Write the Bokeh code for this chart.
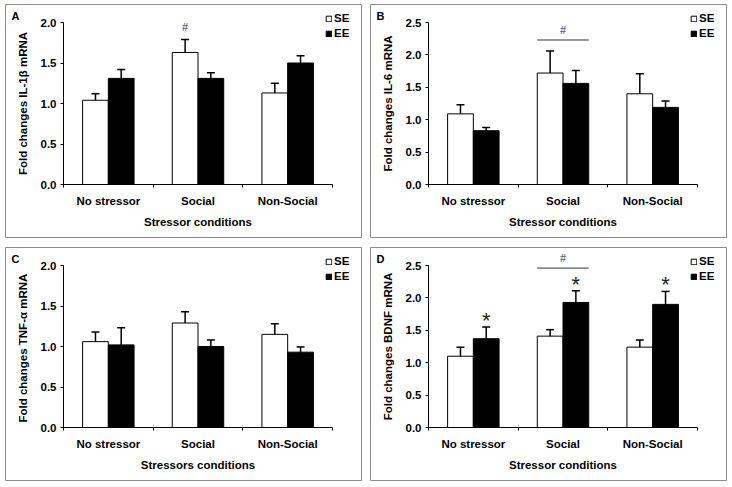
from bokeh.plotting import figure
from bokeh.models import (ColumnDataSource, FixedTicker, PrintfTickFormatter, Whisker,
                          Legend, LegendItem, Label, Range1d, TeeHead)
from bokeh.layouts import gridplot
from bokeh.embed import file_html
from bokeh.resources import INLINE

categories = ["No stressor", "Social", "Non-Social"]
groups = ["SE", "EE"]

# Panel A: IL-1beta
il1b_se = [1.04, 1.63, 1.13]
il1b_se_err = [0.08, 0.16, 0.12]
il1b_ee = [1.31, 1.31, 1.50]
il1b_ee_err = [0.11, 0.07, 0.09]

# Panel B: IL-6
il6_se = [1.09, 1.72, 1.40]
il6_se_err = [0.14, 0.34, 0.31]
il6_ee = [0.83, 1.56, 1.19]
il6_ee_err = [0.05, 0.20, 0.10]

# Panel C: TNF-alpha
tnfa_se = [1.06, 1.29, 1.15]
tnfa_se_err = [0.12, 0.14, 0.13]
tnfa_ee = [1.02, 1.00, 0.93]
tnfa_ee_err = [0.21, 0.08, 0.065]

# Panel D: BDNF
bdnf_se = [1.10, 1.41, 1.24]
bdnf_se_err = [0.14, 0.10, 0.11]
bdnf_ee = [1.37, 1.93, 1.90]
bdnf_ee_err = [0.18, 0.18, 0.20]

ticks_20 = [0.0, 0.5, 1.0, 1.5, 2.0]
ticks_25 = [0.0, 0.5, 1.0, 1.5, 2.0, 2.5]

FONT = "Liberation Sans"
W, H = 357, 234
PX_L, PX_R, PX_B, PX_T = 58, 30, 54, 18
BW = 0.287


def panel(letter, se, se_err, ee, ee_err, yticks, ytitle, xtitle,
          hash_over_se=False, hash_line_y=None, stars=False):
    n = len(categories)
    ymax = yticks[-1]
    ppx = (W - PX_L - PX_R) / n
    ppy = (H - PX_B - PX_T) / ymax
    p = figure(width=W, height=H, title=None,
               x_range=Range1d(-PX_L / ppx, n + PX_R / ppx),
               y_range=Range1d(-PX_B / ppy, ymax + PX_T / ppy),
               output_backend="svg", toolbar_location=None,
               min_border=0, min_border_left=0, min_border_right=0,
               min_border_top=0, min_border_bottom=0)
    p.outline_line_color = "#8c8c8c"
    p.outline_line_width = 1
    p.grid.visible = False

    xc = [i + 0.5 for i in range(n)]
    x_se = [c - BW / 2 for c in xc]
    x_ee = [c + BW / 2 for c in xc]

    src_se = ColumnDataSource(dict(x=x_se, top=se,
                                   upper=[v + e for v, e in zip(se, se_err)],
                                   lower=[v - e for v, e in zip(se, se_err)]))
    src_ee = ColumnDataSource(dict(x=x_ee, top=ee,
                                   upper=[v + e for v, e in zip(ee, ee_err)],
                                   lower=[v - e for v, e in zip(ee, ee_err)]))
    r_se = p.vbar(x="x", top="top", width=BW, source=src_se,
                  fill_color="white", line_color="black", line_width=1)
    r_ee = p.vbar(x="x", top="top", width=BW, source=src_ee,
                  fill_color="black", line_color="black", line_width=1)
    for src in (src_se, src_ee):
        p.add_layout(Whisker(source=src, base="x", upper="upper", lower="lower",
                             line_color="black", line_width=1.5,
                             upper_head=TeeHead(size=8, line_width=1.5, line_color="black"),
                             lower_head=TeeHead(size=8, line_width=1.5, line_color="black")))

    # axes
    yax = p.yaxis[0]
    yax.fixed_location = 0
    yax.bounds = (0, ymax)
    yax.ticker = FixedTicker(ticks=yticks, minor_ticks=[])
    yax.formatter = PrintfTickFormatter(format="%.1f")
    yax.major_tick_out = 3
    yax.major_tick_in = 0
    yax.minor_tick_out = 0
    yax.minor_tick_in = 0
    yax.major_label_standoff = 4
    yax.axis_label = ytitle
    yax.axis_label_standoff = 9

    xax = p.xaxis[0]
    xax.fixed_location = 0
    xax.bounds = (0, n)
    xax.ticker = FixedTicker(ticks=xc, minor_ticks=list(range(n + 1)))
    xax.major_label_overrides = {c: cat for c, cat in zip(xc, categories)}
    xax.major_tick_out = 0
    xax.major_tick_in = 0
    xax.minor_tick_out = 3
    xax.minor_tick_in = 0
    xax.major_label_standoff = 7
    xax.axis_label = xtitle
    xax.axis_label_standoff = 6

    for ax in (xax, yax):
        ax.axis_line_color = "black"
        ax.major_tick_line_color = "black"
        ax.minor_tick_line_color = "black"
        ax.major_label_text_font = FONT
        ax.major_label_text_font_style = "bold"
        ax.major_label_text_font_size = "11.5px"
        ax.major_label_text_color = "black"
        ax.axis_label_text_font = FONT
        ax.axis_label_text_font_style = "bold"
        ax.axis_label_text_font_size = "11.5px"
        ax.axis_label_text_color = "black"

    legend = Legend(items=[LegendItem(label=groups[0], renderers=[r_se]),
                           LegendItem(label=groups[1], renderers=[r_ee])],
                    location=(320, H - 35),
                    glyph_width=7, glyph_height=7, label_height=12, label_width=10,
                    label_standoff=2, spacing=3, padding=0, margin=0,
                    border_line_color=None, background_fill_alpha=0,
                    label_text_font=FONT, label_text_font_style="bold",
                    label_text_font_size="11.5px", label_text_color="black")
    p.add_layout(legend)

    p.add_layout(Label(x=10, y=H - 11, x_units="screen", y_units="screen",
                       text=letter, text_font=FONT, text_font_style="bold",
                       text_font_size="11px", text_align="center",
                       text_baseline="middle", text_color="black"))

    if hash_over_se:
        p.add_layout(Label(x=x_se[1], y=se[1] + se_err[1] + 0.16, text="#",
                           text_font=FONT, text_font_size="11px",
                           text_align="center", text_baseline="middle",
                           text_color="#333333"))
    if hash_line_y is not None:
        p.segment(x0=[x_se[1] - BW / 2], y0=[hash_line_y],
                  x1=[x_ee[1] + BW / 2], y1=[hash_line_y],
                  line_color="#333333", line_width=1)
        p.add_layout(Label(x=xc[1], y=hash_line_y + 0.15, text="#",
                           text_font=FONT, text_font_size="11px",
                           text_align="center", text_baseline="middle",
                           text_color="#333333"))
    if stars:
        for x, v, e in zip(x_ee, ee, ee_err):
            p.add_layout(Label(x=x, y=v + e + 0.10, text="*",
                               text_font=FONT, text_font_size="22px",
                               text_align="center", text_baseline="middle",
                               text_color="#222222"))
    return p


pa = panel("A", il1b_se, il1b_se_err, il1b_ee, il1b_ee_err, ticks_20,
           "Fold changes IL-1β mRNA", "Stressor conditions", hash_over_se=True)
pb = panel("B", il6_se, il6_se_err, il6_ee, il6_ee_err, ticks_25,
           "Fold changes IL-6 mRNA", "Stressor conditions", hash_line_y=2.23)
pc = panel("C", tnfa_se, tnfa_se_err, tnfa_ee, tnfa_ee_err, ticks_20,
           "Fold changes  TNF-α mRNA", "Stressors conditions")
pd_ = panel("D", bdnf_se, bdnf_se_err, bdnf_ee, bdnf_ee_err, ticks_25,
            "Fold changes BDNF mRNA", "Stressor conditions", hash_line_y=2.46, stars=True)

grid = gridplot([[pa, pb], [pc, pd_]], toolbar_location=None)
grid.spacing = (9, 8)
grid.margin = (4, 0, 0, 5)

open("out.html", "w").write(file_html(grid, INLINE))
